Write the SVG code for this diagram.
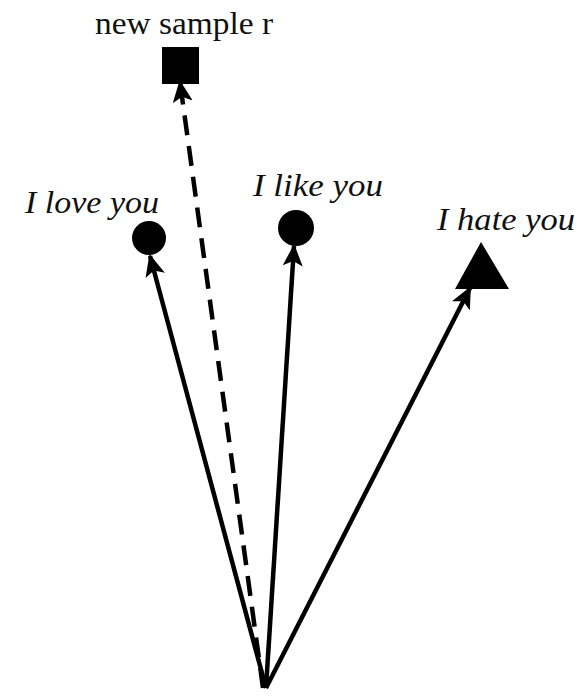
<svg xmlns="http://www.w3.org/2000/svg" width="582" height="696" viewBox="0 0 582 696">
<style>
.lbl{font-family:"Liberation Serif","Times New Roman",serif;font-size:31px;fill:#111}
.it{font-style:italic}
.ln{stroke:#000;stroke-width:4.5;fill:none}
.sh{fill:#000}
</style>
<defs>
<marker id="ah" markerUnits="userSpaceOnUse" markerWidth="24" markerHeight="24" viewBox="0 0 24 24" refX="20" refY="12" orient="auto">
<path d="M0,2 L22,12 L0,22 L5,12 z" fill="#000"/>
</marker>
</defs>
<rect width="582" height="696" fill="#fff"/>
<g id="connectors">
<line class="ln" x1="266" y1="688" x2="150" y2="256" marker-end="url(#ah)"/>
<line class="ln" x1="266" y1="688" x2="294" y2="246" marker-end="url(#ah)"/>
<line class="ln" x1="266" y1="688" x2="470" y2="288" marker-end="url(#ah)"/>
<line class="ln" x1="263" y1="688" x2="180" y2="82" stroke-dasharray="20,11" marker-end="url(#ah)"/>
</g>
<g id="new-sample">
<rect class="sh" x="162" y="47" width="37" height="37"/>
<text class="lbl" x="95" y="34" textLength="178" lengthAdjust="spacingAndGlyphs">new sample r</text>
</g>
<g id="love">
<circle class="sh" cx="149" cy="238" r="17"/>
<text class="lbl it" x="25" y="213" textLength="134" lengthAdjust="spacingAndGlyphs">I love you</text>
</g>
<g id="like">
<circle class="sh" cx="296" cy="228" r="18"/>
<text class="lbl it" x="253" y="196" textLength="130" lengthAdjust="spacingAndGlyphs">I like you</text>
</g>
<g id="hate">
<polygon class="sh" points="481,242 455,289 509,289"/>
<text class="lbl it" x="437" y="230" textLength="138" lengthAdjust="spacingAndGlyphs">I hate you</text>
</g>
</svg>
